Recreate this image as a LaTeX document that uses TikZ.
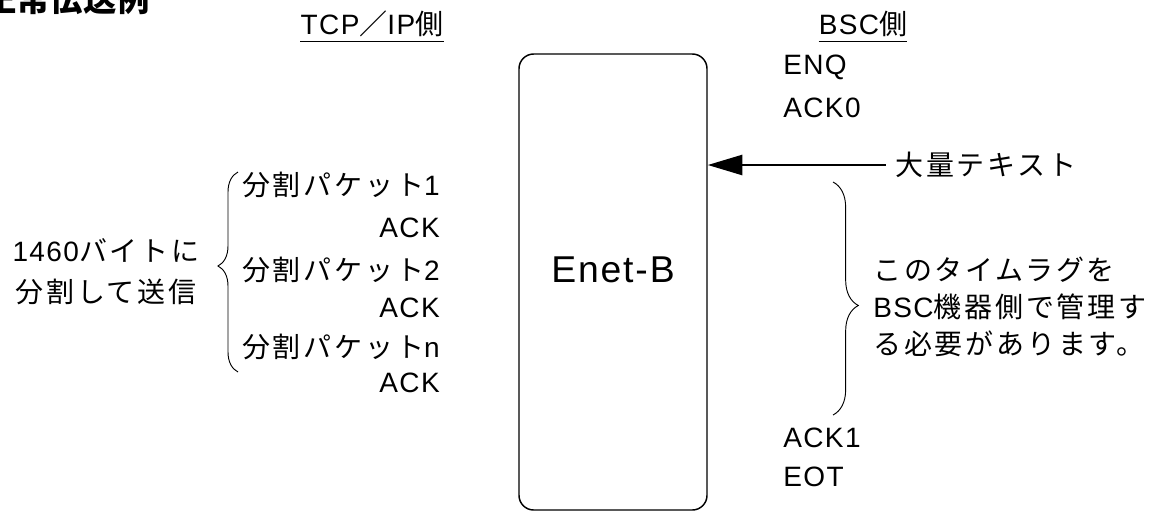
\documentclass[tikz,border=0pt]{standalone}
\usepackage{fontspec}
\setmainfont{Liberation Sans}[LetterSpace=5]
\newfontfamily\jp{Noto Sans CJK JP}[LetterSpace=10]
\newfontfamily\jpttl{Noto Sans CJK JP}
\usetikzlibrary{arrows.meta,decorations.pathreplacing}
\tikzset{
  txt/.style={inner sep=0pt,font=\fontsize{21}{25}\selectfont},
  head/.style={txt,font=\fontsize{25}{28}\selectfont\bfseries\jpttl},
  unit/.style={draw,line width=1.1pt,rounded corners=11pt,
    minimum width=141pt,minimum height=342pt,inner sep=0pt},
  brc/.style={decorate,decoration={brace,amplitude=#1,aspect=0.53},line width=0.7pt},
  uline/.style={line width=0.8pt}
}
\begin{document}
\begin{tikzpicture}[x=0.75pt,y=-0.75pt]
  \clip (0,0) rectangle (1158,511);
  % title, cut at the page edge
  \node[head,anchor=base east] (title) at (150,11) {正常伝送例};
  % side headings
  \node[txt] (tcp) at (372,24) {TCP{\jp ／}IP{\jp 側}};
  \node[txt] (bsc) at (863,24) {BSC{\jp 側}};
  \draw[uline] ([yshift=-3pt]tcp.south west) -- ([yshift=-3pt]tcp.south east);
  \draw[uline] ([yshift=-3pt]bsc.south west) -- ([yshift=-3pt]bsc.south east);
  % the unit
  \node[unit] (enet) at (613,282) {};
  \node[txt,font=\fontsize{28}{30}\selectfont] (name) at (613,270) {Enet-B};
  % TCP/IP side
  \node[txt,anchor=east] (pk1) at (440,185) {{\jp 分割パケット}1};
  \node[txt,anchor=east] (ak1) at (440,228) {ACK};
  \node[txt,anchor=east] (pk2) at (440,270) {{\jp 分割パケット}2};
  \node[txt,anchor=east] (ak2) at (440,308) {ACK};
  \node[txt,anchor=east] (pkn) at (440,347) {{\jp 分割パケット}n};
  \node[txt,anchor=east] (akn) at (440,383) {ACK};
  \coordinate (lb1) at (238,372);
  \coordinate (lb2) at (238,172);
  \draw[brc=15pt] (lb1) -- (lb2);
  \node[txt,align=center,font=\fontsize{21}{31}\selectfont] (split) at (106,272)
    {1460{\jp バイトに}\\{\jp 分割して送信}};
  % BSC side
  \node[txt,anchor=west] (enq) at (783,67) {ENQ};
  \node[txt,anchor=west] (ack0) at (783,108) {ACK0};
  \node[txt,anchor=west] (bulk) at (895,165) {\jp 大量テキスト};
  \draw[line width=2pt,-{Triangle[length=26pt,width=15pt]}]
    ([xshift=-7pt]bulk.west) -- (bulk.west -| enet.east);
  \coordinate (rb1) at (833,182);
  \coordinate (rb2) at (833,415);
  \draw[brc=19pt] (rb1) -- (rb2);
  \node[txt,anchor=west,align=left,font=\fontsize{21}{28}\selectfont\jp] (lag) at (873,307)
    {このタイムラグを\\{\rmfamily BSC}機器側で管理す\\る必要があります。};
  \node[txt,anchor=west] (ack1) at (783,438) {ACK1};
  \node[txt,anchor=west] (eot) at (783,477) {EOT};
\end{tikzpicture}
\end{document}
